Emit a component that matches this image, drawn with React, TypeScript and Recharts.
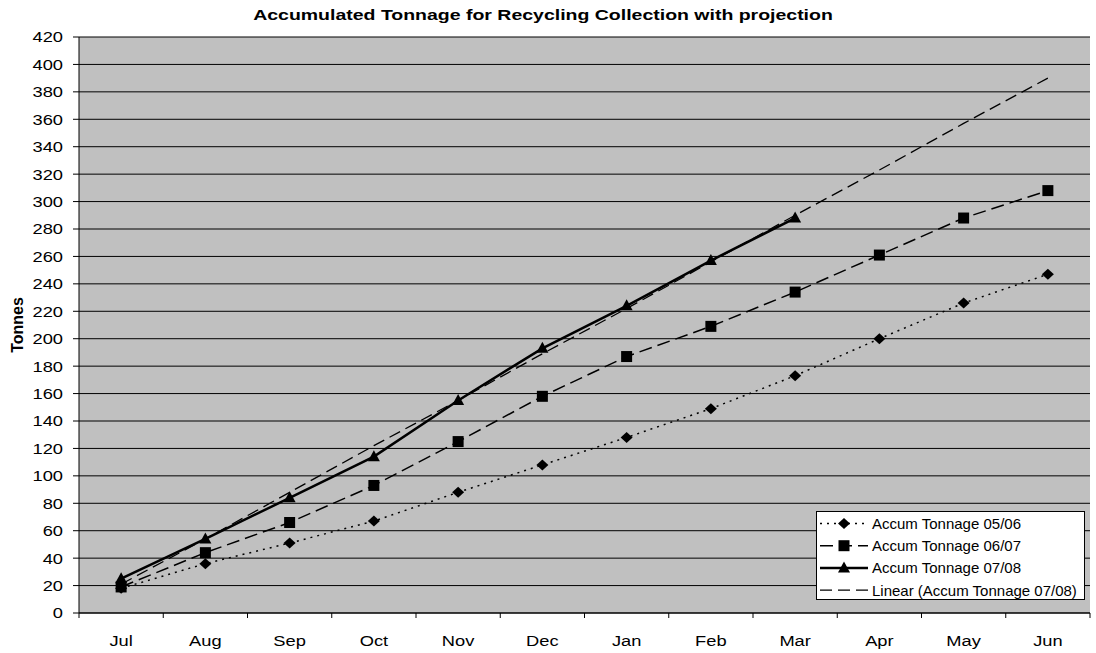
import React from 'react';
import { LineChart, Line, XAxis, YAxis, CartesianGrid, Legend } from 'recharts';

const months = ['Jul', 'Aug', 'Sep', 'Oct', 'Nov', 'Dec', 'Jan', 'Feb', 'Mar', 'Apr', 'May', 'Jun'];
const tonnage0506 = [18, 36, 51, 67, 88, 108, 128, 149, 173, 200, 226, 247];
const tonnage0607 = [19, 44, 66, 93, 125, 158, 187, 209, 234, 261, 288, 308];
const tonnage0708: (number | null)[] = [25, 54, 84, 114, 155, 193, 224, 257, 288, null, null, null];
const linear0708 = [21, 54, 88, 122, 155, 189, 222, 256, 290, 323, 357, 390];
const yTicks = [0, 20, 40, 60, 80, 100, 120, 140, 160, 180, 200, 220, 240, 260, 280, 300, 320, 340, 360, 380, 400, 420];
const seriesNames = ['Accum Tonnage 05/06', 'Accum Tonnage 06/07', 'Accum Tonnage 07/08', 'Linear (Accum Tonnage 07/08)'];
const title = 'Accumulated Tonnage for Recycling Collection with projection';
const yLabel = 'Tonnes';

const data = months.map((m, i) => ({
  month: m,
  t0506: tonnage0506[i],
  t0607: tonnage0607[i],
  t0708: tonnage0708[i],
  lin: linear0708[i],
}));

const W = 1096;
const H = 653;
const Y_AXIS_W = 79;
const M_RIGHT = 6;
const PLOT_W = W - Y_AXIS_W - M_RIGHT;
const BAND = PLOT_W / months.length;
const SX = 1.22;
const FONT = '"Liberation Sans", Arial, sans-serif';

const diamondPath = (cx: number, cy: number) => `M${cx},${cy - 5.5}L${cx + 6},${cy}L${cx},${cy + 5.5}L${cx - 6},${cy}Z`;
const squarePath = (cx: number, cy: number) => `M${cx - 5.5},${cy - 5.5}h11v11h-11Z`;
const trianglePath = (cx: number, cy: number) => `M${cx},${cy - 6.5}L${cx + 6},${cy + 4.5}L${cx - 6},${cy + 4.5}Z`;

const makeDot = (fn: (cx: number, cy: number) => string) => (props: any) => {
  const { cx, cy, index, value } = props;
  if (cx == null || cy == null || value == null || Number.isNaN(cy)) return <g key={`e${index}`} />;
  return <path key={`d${index}`} d={fn(cx, cy)} fill="#000" stroke="none" />;
};

const YTick = (props: any) => {
  const { x, y, payload } = props;
  return (
    <text transform={`translate(${x},${y}) scale(${SX},1)`} textAnchor="end" dy="0.36em" fontSize={15} fill="#000" fontFamily={FONT}>
      {payload.value}
    </text>
  );
};

const XTick = (props: any) => {
  const { x, y, payload, index } = props;
  const half = BAND / 2;
  return (
    <g>
      <line x1={x - half} x2={x - half} y1={y} y2={y + 5} stroke="#000" />
      {index === months.length - 1 && <line x1={x + half} x2={x + half} y1={y} y2={y + 5} stroke="#000" />}
      <text transform={`translate(${x},${y + 33}) scale(${SX},1)`} textAnchor="middle" fontSize={15} fill="#000" fontFamily={FONT}>
        {payload.value}
      </text>
    </g>
  );
};

const legendStyles = [
  { dash: '2 5', width: 1.5, marker: diamondPath },
  { dash: '13 6', width: 1.5, marker: squarePath },
  { dash: undefined, width: 2.5, marker: trianglePath },
  { dash: '12 6', width: 1.3, marker: null },
];

const LegendBox = () => (
  <svg width={270} height={90} style={{ display: 'block' }}>
    <rect x={0.5} y={0.5} width={268} height={88} fill="#fff" stroke="#000" />
    {seriesNames.map((name, i) => {
      const cy = 12.5 + i * 22.2;
      const st = legendStyles[i];
      return (
        <g key={name}>
          <line x1={4} x2={52} y1={cy} y2={cy} stroke="#000" strokeWidth={st.width} strokeDasharray={st.dash} />
          {st.marker && <path d={st.marker(28, cy)} fill="#000" />}
          <text x={56} y={cy} dy="0.36em" fontSize={15} fill="#000" fontFamily={FONT}>
            {name}
          </text>
        </g>
      );
    })}
  </svg>
);

export default function App() {
  return (
    <div style={{ position: 'absolute', left: 0, top: 0, width: W, height: H, background: '#fff', fontFamily: FONT }}>
      <LineChart width={W} height={H} data={data} margin={{ top: 37, right: M_RIGHT, bottom: 0, left: 0 }}>
        <CartesianGrid horizontal vertical={false} stroke="#000" fill="#C0C0C0" fillOpacity={1} />
        <XAxis
          dataKey="month"
          interval={0}
          height={40}
          padding={{ left: BAND / 2, right: BAND / 2 }}
          tickSize={0}
          tickMargin={0}
          tickLine={false}
          axisLine={{ stroke: '#000' }}
          tick={<XTick />}
        />
        <XAxis
          xAxisId="top"
          orientation="top"
          dataKey="month"
          height={0}
          tick={false}
          tickLine={false}
          axisLine={{ stroke: '#808080', strokeWidth: 1.5 }}
        />
        <YAxis
          domain={[0, 420]}
          ticks={yTicks}
          interval={0}
          width={Y_AXIS_W}
          tickSize={6}
          tickMargin={10}
          tickLine={{ stroke: '#000' }}
          axisLine={{ stroke: '#000' }}
          tick={<YTick />}
          label={{
            content: (p: any) => {
              const vb = p.viewBox || { x: 0, y: 37, width: 79, height: 576 };
              const cx = vb.x + 23;
              const cy = vb.y + vb.height / 2;
              return (
                <text x={cx} y={cy} transform={`rotate(-90,${cx},${cy})`} textAnchor="middle" fontSize={16} fontWeight="bold" fill="#000" fontFamily={FONT}>
                  {yLabel}
                </text>
              );
            },
          }}
        />
        <YAxis
          yAxisId="right"
          orientation="right"
          domain={[0, 420]}
          width={0}
          tick={false}
          tickLine={false}
          axisLine={{ stroke: '#808080', strokeWidth: 1.5 }}
        />
        <Legend
          layout="vertical"
          align="center"
          verticalAlign="middle"
          width={270}
          height={90}
          wrapperStyle={{ left: 816, top: 511, width: 270, height: 90 }}
          content={<LegendBox />}
        />
        <Line
          type="linear"
          dataKey="lin"
          name={seriesNames[3]}
          stroke="#000"
          strokeWidth={1.3}
          strokeDasharray="12 6"
          dot={false}
          activeDot={false}
          isAnimationActive={false}
        />
        <Line
          type="linear"
          dataKey="t0506"
          name={seriesNames[0]}
          stroke="#000"
          strokeWidth={1.5}
          strokeDasharray="2 5"
          dot={makeDot(diamondPath)}
          activeDot={false}
          isAnimationActive={false}
        />
        <Line
          type="linear"
          dataKey="t0607"
          name={seriesNames[1]}
          stroke="#000"
          strokeWidth={1.5}
          strokeDasharray="13 6"
          dot={makeDot(squarePath)}
          activeDot={false}
          isAnimationActive={false}
        />
        <Line
          type="linear"
          dataKey="t0708"
          name={seriesNames[2]}
          stroke="#000"
          strokeWidth={2.5}
          dot={makeDot(trianglePath)}
          activeDot={false}
          connectNulls={false}
          isAnimationActive={false}
        />
      </LineChart>
      <svg width={W} height={30} style={{ position: 'absolute', left: 0, top: 0, pointerEvents: 'none' }}>
        <text transform={`translate(543,20) scale(1.3,1)`} textAnchor="middle" fontSize={15} fontWeight="bold" fill="#000" fontFamily={FONT}>
          {title}
        </text>
      </svg>
    </div>
  );
}
